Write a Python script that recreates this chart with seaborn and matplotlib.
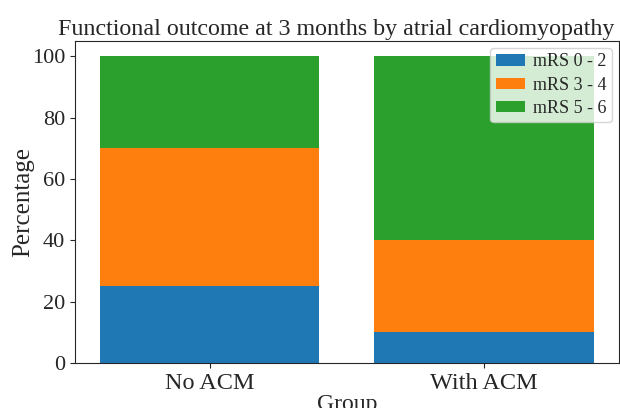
import seaborn as sns
import matplotlib.pyplot as plt
import pandas as pd

# Data (percentages)
groups = ["No ACM", "With ACM"]
mrs_0_2 = [25, 10]
mrs_3_4 = [45, 30]
mrs_5_6 = [30, 60]
labels = ["mRS 0 - 2", "mRS 3 - 4", "mRS 5 - 6"]
colors = ["#1f77b4", "#ff7f0e", "#2ca02c"]

sns.set_style("ticks")
plt.rcParams["font.family"] = ["Liberation Serif", "DejaVu Serif"]

df = pd.DataFrame({"Group": groups, "a": mrs_0_2, "b": mrs_3_4, "c": mrs_5_6})
df["top"] = df["a"] + df["b"] + df["c"]
df["mid"] = df["a"] + df["b"]

fig, ax = plt.subplots(figsize=(6.2, 4.08), dpi=100)

# stacked bars drawn as overlapping cumulative totals
sns.barplot(data=df, x="Group", y="top", color=colors[2], saturation=1, width=0.8,
            linewidth=0, ax=ax, label=labels[2])
sns.barplot(data=df, x="Group", y="mid", color=colors[1], saturation=1, width=0.8,
            linewidth=0, ax=ax, label=labels[1])
sns.barplot(data=df, x="Group", y="a", color=colors[0], saturation=1, width=0.8,
            linewidth=0, ax=ax, label=labels[0])

ax.set_xlim(-0.49, 1.49)
ax.set_ylim(0, 105)
ax.set_title("Functional outcome at 3 months by atrial cardiomyopathy",
             fontsize=17.3, pad=4, x=0.48)
ax.set_xlabel("Group", fontsize=17, labelpad=0)
ax.set_ylabel("Percentage", fontsize=18, labelpad=-2)
ax.tick_params(axis="x", labelsize=17.5)
ax.tick_params(axis="y", labelsize=16)

handles, lbls = ax.get_legend_handles_labels()
ax.legend(handles[::-1], lbls[::-1], loc="upper right", fontsize=13,
          handlelength=1.65, handleheight=0.6, borderpad=0.3, labelspacing=0.35,
          handletextpad=0.4, borderaxespad=0.4)

fig.subplots_adjust(left=0.121, right=0.998, bottom=0.11, top=0.9)
fig.savefig("out.png", dpi=100)
